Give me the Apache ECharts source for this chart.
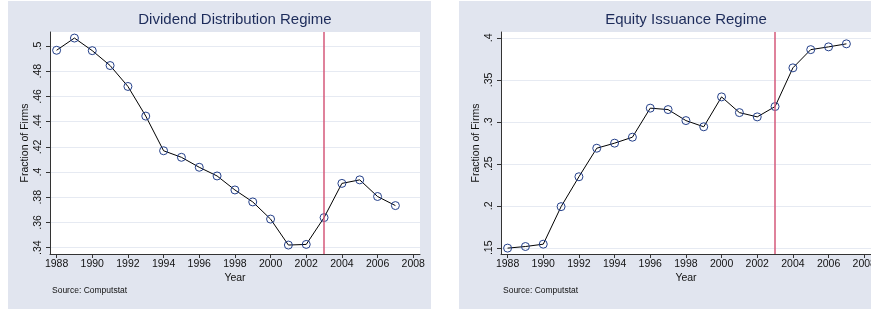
<!DOCTYPE html>
<html>
<head>
<meta charset="utf-8">
<script src="https://cdn.jsdelivr.net/npm/echarts@6/dist/echarts.min.js"></script>
<style>
  html, body { margin: 0; padding: 0; background: #fff; overflow: hidden; width: 871px; height: 310px; }
  .panel { position: absolute; top: 1px; width: 423px; height: 308px; }
</style>
</head>
<body>
<div id="left" class="panel" style="left:8px"></div>
<div id="right" class="panel" style="left:459px"></div>
<script>
// data
const years = [1988, 1989, 1990, 1991, 1992, 1993, 1994, 1995, 1996, 1997,
               1998, 1999, 2000, 2001, 2002, 2003, 2004, 2005, 2006, 2007];
const dividendShare = [0.4966, 0.5063, 0.4963, 0.4845, 0.4679, 0.4444, 0.4169, 0.4117, 0.4038, 0.3969,
                       0.3858, 0.3763, 0.3627, 0.3421, 0.3426, 0.3639, 0.3910, 0.3938, 0.3806, 0.3734];
const equityShare = [0.1496, 0.1515, 0.1543, 0.1990, 0.2346, 0.2686, 0.2746, 0.2817, 0.3163, 0.3146,
                     0.3015, 0.2941, 0.3297, 0.3110, 0.3059, 0.3182, 0.3643, 0.3860, 0.3893, 0.3929];
const xTicks = [1988, 1990, 1992, 1994, 1996, 1998, 2000, 2002, 2004, 2006, 2008];
const dividendTicks = [0.34, 0.36, 0.38, 0.40, 0.42, 0.44, 0.46, 0.48, 0.50];
const equityTicks = [0.15, 0.20, 0.25, 0.30, 0.35, 0.40];
const regimeBreak = 2003;

const font = 'Liberation Sans, Arial, sans-serif';
const axisColor = '#333';

// stata style: .5 instead of 0.5
function stataNum(v) {
  return String(+v.toFixed(2)).replace(/^0/, '');
}

function makeOption(title, values, yTicks, yMin, yMax) {
  return {
    animation: false,
    backgroundColor: '#e1e5ef',
    title: [
      {
        text: title,
        left: 227, top: 11, textAlign: 'center', padding: 0,
        textStyle: { fontFamily: font, fontSize: 15, fontWeight: 'normal', color: '#1c2b5a' }
      },
      {
        text: 'Source: Computstat',
        left: 44, top: 285, padding: 0,
        textStyle: { fontFamily: font, fontSize: 8.5, fontWeight: 'normal', color: '#111' }
      }
    ],
    grid: {
      left: 42, right: 11, top: 31, bottom: 55,
      show: true, backgroundColor: '#fff', borderWidth: 0
    },
    xAxis: {
      type: 'value',
      min: 1987.63, max: 2008.38,
      name: 'Year', nameLocation: 'middle', nameGap: 19, nameMoveOverlap: false,
      nameTextStyle: { fontFamily: font, fontSize: 10.5, color: '#111' },
      axisLine: { show: true, lineStyle: { color: axisColor, width: 1 } },
      axisTick: { show: true, length: 4, customValues: xTicks, lineStyle: { color: axisColor } },
      axisLabel: {
        customValues: xTicks, margin: 5, fontFamily: font, fontSize: 10.5, color: '#111',
        formatter: v => String(v)
      },
      splitLine: { show: false }
    },
    yAxis: {
      type: 'value',
      min: yMin, max: yMax,
      name: 'Fraction of Firms', nameLocation: 'middle', nameGap: 19, nameRotate: 90,
      nameMoveOverlap: false,
      nameTextStyle: { fontFamily: font, fontSize: 10.5, color: '#111' },
      axisLine: { show: true, lineStyle: { color: axisColor, width: 1 } },
      axisTick: { show: true, length: 4, customValues: yTicks, lineStyle: { color: axisColor } },
      axisLabel: {
        customValues: yTicks, rotate: 90, margin: 6,
        fontFamily: font, fontSize: 10.5, color: '#111',
        formatter: stataNum
      },
      splitLine: { show: true, lineStyle: { color: '#e6eaf2', width: 1 } }
    },
    series: [{
      type: 'line',
      data: years.map((y, i) => [y, values[i]]),
      symbol: 'circle',
      symbolSize: 8,
      itemStyle: { color: 'rgba(0,0,0,0)', borderColor: '#24408a', borderWidth: 1 },
      lineStyle: { color: '#000', width: 1 },
      markLine: {
        silent: true,
        symbol: 'none',
        label: { show: false },
        lineStyle: { color: '#d4587a', width: 1.5, type: 'solid' },
        data: [{ xAxis: regimeBreak }]
      }
    }]
  };
}

const leftChart = echarts.init(document.getElementById('left'));
leftChart.setOption(makeOption('Dividend Distribution Regime', dividendShare, dividendTicks, 0.335, 0.5111));

const rightChart = echarts.init(document.getElementById('right'));
rightChart.setOption(makeOption('Equity Issuance Regime', equityShare, equityTicks, 0.1426, 0.407));
</script>
</body>
</html>
